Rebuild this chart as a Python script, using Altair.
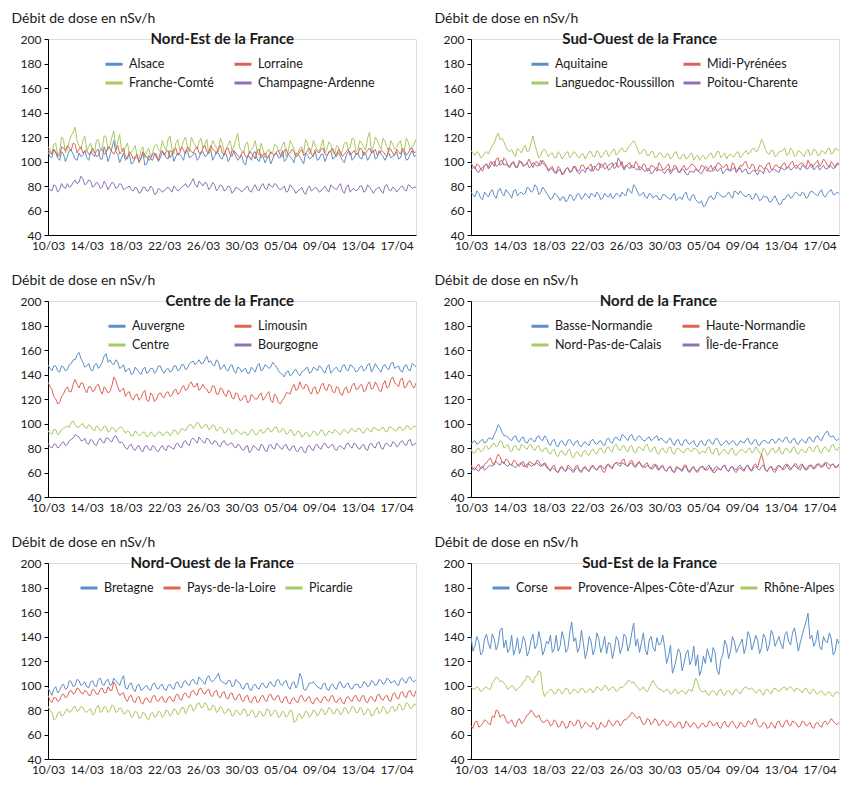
import altair as alt
import pandas as pd

# ---------------- data ----------------
DATE_LABELS = ["10/03", "14/03", "18/03", "22/03", "26/03", "30/03", "05/04", "09/04", "13/04", "17/04"]
LABEL_POS = [0, 4, 8, 12, 16, 20, 24, 28, 32, 36]
Y_TICKS = [40, 60, 80, 100, 120, 140, 160, 180, 200]
STEP = 0.4  # days between two main readings; the "_b" lists hold the readings half-way between

alsace = [108,103,107,101,106,104,109,102,107,105, 103,108,104,110,102,107,105,117,106,103,
          101,106,99,104,102,97,105,101,106,103, 107,102,108,104,106,101,109,104,107,103,
          108,105,110,104,107,102,106,103,108,101, 105,97,104,107,102,106,99,105,102,107,
          103,100,106,102,107,104,98,105,103,108, 102,106,104,109,103,107,101,105,108,103,
          107,102,106,104,109,103,106,101,107,104, 108,103,107,102,109,105]
alsace_b = [104,110,103,108,100,109,106,101,104,109, 101,106,109,102,112,100,111,108,99,107,
            104,98,103,100,107,98,102,106,100,108, 103,109,100,107,104,109,103,106,101,108,
            104,109,101,108,103,107,100,109,104,103, 99,105,101,108,100,104,102,98,106,103,
            109,102,104,99,106,101,107,102,106,101, 106,100,108,102,107,104,99,108,101,106,
            103,108,101,107,102,109,104,105,103,106, 102,109,101,106,104]
lorraine = [110,106,108,105,111,113,109,114,110,107, 109,106,108,105,110,107,111,106,113,108,
            104,108,102,106,103,105,101,106,103,107, 105,109,106,111,107,109,112,108,110,107,
            111,108,113,109,111,107,110,106,109,105, 107,104,108,105,109,103,107,104,106,108,
            105,109,106,110,104,108,105,109,106,110, 107,111,105,109,106,110,104,108,105,109,
            106,110,107,111,108,105,109,106,111,107, 110,106,109,107,111,108]
lorraine_b = [107,110,104,112,109,111,115,107,112,108, 106,111,104,109,106,112,108,109,106,111,
              102,106,104,99,108,104,102,107,101,109, 108,103,110,105,112,106,110,107,112,106,
              113,107,110,106,113,105,111,104,107,103, 108,103,107,102,110,105,103,108,105,109,
              104,110,107,108,105,110,107,111,104,108, 110,106,107,111,104,108,106,110,107,106,
              111,105,109,107,110,107,108,104,110,105, 108,111,105,110,107]
franche_comte = [112,106,115,108,118,110,121,128,113,117, 109,115,107,118,111,120,113,125,116,109,
                 112,106,110,104,109,103,111,107,114,108, 112,118,110,115,109,117,112,120,113,116,
                 111,118,109,114,108,115,110,117,112,123, 109,114,106,112,108,115,103,110,107,113,
                 109,116,108,114,104,111,107,115,109,113, 108,118,110,114,106,112,109,116,111,118,
                 110,115,109,124,112,117,110,116,108,114, 111,117,109,116,112,118]
franche_comte_b = [110,114,105,120,107,117,124,117,110,121, 112,108,117,110,121,109,120,111,122,108,
                   115,108,113,102,112,108,104,113,110,117, 109,121,106,118,112,120,108,116,110,119,
                   114,106,117,111,119,107,114,109,118,111, 107,116,110,117,105,110,108,106,114,109,
                   113,104,117,110,107,112,118,106,117,110, 113,107,116,108,113,105,115,110,119,108,
                   117,112,119,108,120,113,119,112,117,110, 115,108,119,110,114]
champagne = [79,76,80,77,79,82,80,85,83,86, 82,84,80,82,79,81,80,82,79,81,
             78,80,76,78,75,79,76,78,74,77, 76,79,75,78,77,80,79,83,81,84,
             80,82,79,81,78,80,77,79,76,78, 75,78,76,79,77,80,78,82,79,81,
             77,80,76,79,74,77,75,78,76,79, 75,78,77,81,78,80,76,79,75,78,
             77,80,76,79,74,78,76,80,77,79, 75,79,77,81,78,79]
champagne_b = [77,81,75,82,78,79,83,82,88,81, 85,79,83,78,84,77,83,78,82,77,
               79,77,79,74,79,76,80,73,78,75, 78,77,80,76,79,82,80,86,79,82,
               83,77,83,76,81,76,80,74,79,77, 77,80,75,81,76,82,77,80,82,78,
               78,75,81,77,76,79,73,80,77,78, 76,80,75,79,77,82,74,81,77,76,
               80,75,81,77,77,79,74,81,76,78, 77,80,76,80,79]

aquitaine = [75,71,74,69,73,75,72,76,74,77, 73,76,72,75,74,78,76,79,75,77,
             72,70,73,68,71,69,72,70,73,71, 72,74,71,73,70,72,74,71,73,75,
             72,76,81,75,73,71,74,70,72,69, 73,70,72,68,71,73,70,72,69,66,
             63,68,72,70,74,71,73,72,76,73, 74,71,73,70,72,69,71,67,70,68,
             65,69,73,71,75,72,74,71,76,73, 75,72,74,77,73,74]
aquitaine_b = [73,76,70,75,71,77,70,78,72,75, 70,77,74,73,79,75,81,73,79,74,
               69,74,71,71,67,73,68,74,69,74, 70,73,75,69,74,71,70,74,71,73,
               78,74,79,72,75,70,73,72,69,73, 71,69,74,70,69,75,68,73,67,68,
               64,71,69,75,72,71,75,70,75,76, 72,73,69,74,68,72,71,67,72,65,
               69,72,70,74,73,75,70,75,74,72, 77,71,76,73,75]
midi_pyrenees = [99,94,97,92,98,100,96,103,98,101, 96,100,95,99,97,102,95,100,97,99,
                 93,96,91,94,90,95,92,96,93,97, 94,98,95,99,96,97,94,98,95,100,
                 96,99,95,98,94,97,93,96,92,97, 94,98,93,96,92,97,94,98,95,93,
                 96,92,97,94,99,95,98,93,97,94, 96,100,94,97,93,96,95,99,94,97,
                 95,99,96,100,94,98,97,101,95,99, 96,102,97,100,95,98]
midi_pyrenees_b = [96,98,94,97,95,99,102,97,103,97, 99,96,101,96,99,98,99,97,101,96,
                   95,92,96,89,94,91,96,92,97,94, 96,92,97,95,99,93,97,99,97,93,
                   98,95,100,93,98,92,97,95,99,93, 96,92,97,91,95,93,96,97,92,97,
                   94,95,92,98,97,96,93,99,92,97, 99,95,98,92,97,94,98,93,97,95,
                   98,94,99,96,97,99,95,98,97,101, 98,100,95,98,99]
languedoc = [109,105,107,104,108,110,115,123,119,112, 108,106,111,107,113,109,121,108,105,110,
             104,107,103,106,104,108,105,107,103,106, 105,108,104,107,105,109,106,110,107,111,
             108,113,117,110,107,109,105,108,104,107, 103,106,104,108,102,106,103,107,104,101,
             105,103,107,104,108,105,102,106,104,108, 105,109,107,111,109,118,110,106,109,105,
             108,111,106,109,105,108,104,110,106,109, 105,108,110,106,111,109]
languedoc_b = [107,108,103,107,106,113,120,118,116,109, 110,104,109,111,108,115,114,103,109,107,
               106,103,108,102,107,103,108,104,106,102, 108,104,109,103,108,104,109,105,110,108,
               111,115,114,106,110,105,108,103,107,104, 106,102,107,103,105,102,106,101,105,104,
               102,106,103,108,103,107,105,104,107,103, 107,106,110,108,113,115,107,109,104,108,
               109,105,111,104,109,106,108,105,110,105, 109,106,111,107,110]
poitou = [93,96,91,95,98,96,100,97,101,98, 95,99,96,100,97,95,99,96,101,97,
          92,94,90,93,91,95,92,94,90,93, 95,92,96,93,97,95,98,94,103,96,
          97,94,96,93,95,92,94,91,95,93, 90,94,92,95,91,93,89,92,94,91,
          93,95,92,96,93,90,94,92,95,93, 91,94,90,93,89,92,95,91,94,92,
          95,93,96,94,97,93,96,94,98,95, 93,97,94,96,95,97]
poitou_b = [95,92,94,97,94,99,96,100,97,96, 98,95,99,97,99,96,98,97,99,95,
            94,91,93,90,94,92,96,91,93,91, 94,96,93,98,94,97,99,96,100,94,
            96,97,94,96,93,94,90,94,93,92, 93,90,94,92,94,90,92,91,93,90,
            96,92,94,92,95,92,93,94,91,95, 93,90,92,91,93,90,94,92,93,91,
            94,95,93,96,95,97,94,97,93,97, 95,94,97,94,98]

auvergne = [148,143,147,142,146,144,149,152,158,150, 147,144,148,145,150,157,152,148,150,146,
            142,145,141,144,140,146,142,145,143,147, 141,145,143,147,144,148,145,150,148,152,
            149,155,151,147,150,146,144,147,143,146, 142,145,141,144,147,143,148,145,150,146,
            141,138,143,140,144,139,143,146,142,145, 147,143,146,141,145,143,147,144,148,145,
            143,147,144,149,145,146,142,148,144,150, 146,143,147,144,149,146]
auvergne_b = [145,147,143,147,143,148,152,156,153,146, 149,143,149,147,155,150,149,152,145,148,
              144,140,146,142,144,141,145,141,147,143, 144,142,147,143,148,144,149,151,150,149,
              152,150,148,152,144,148,143,148,141,145, 144,141,146,142,149,144,147,146,148,143,
              140,142,139,143,141,142,145,141,146,143, 146,141,148,143,146,142,148,143,147,142,
              146,143,148,142,149,144,147,145,149,145, 147,142,148,143,148]
limousin = [134,128,120,117,124,130,126,136,129,133, 125,130,127,132,124,128,126,138,130,127,
            122,126,119,124,121,127,118,123,120,125, 121,126,123,128,125,131,128,134,130,127,
            132,128,126,130,124,128,122,126,120,124, 119,123,118,122,120,125,121,126,117,122,
            116,121,125,129,127,134,128,131,124,130, 126,133,127,131,125,129,123,130,126,133,
            128,132,127,134,129,131,126,135,130,138, 132,136,129,134,131,133]
limousin_b = [130,122,116,122,128,126,132,132,133,128, 130,126,131,127,130,125,131,135,126,129,
              125,121,123,119,125,119,125,118,124,122, 125,122,127,124,129,127,132,130,133,129,
              129,125,131,124,129,124,127,121,125,119, 122,117,124,120,123,119,124,119,124,117,
              119,125,124,132,128,130,132,126,129,124, 131,128,132,126,130,124,128,125,131,128,
              131,126,132,128,134,127,132,129,136,133, 130,137,130,135,129]
centre = [94,91,95,92,96,98,101,99,97,100, 96,98,94,97,95,97,94,96,95,97,
          92,93,90,92,91,93,90,92,91,93, 91,93,92,94,93,95,97,99,98,100,
          97,99,96,98,95,96,93,95,92,94, 91,93,92,94,91,95,93,96,94,97,
          93,95,92,94,91,93,90,92,91,93, 92,94,91,93,95,92,94,93,95,94,
          96,93,95,94,97,95,96,94,97,96, 94,97,95,98,96,97]
centre_b = [92,95,91,95,97,97,102,97,99,97, 99,95,98,94,98,93,97,93,97,95,
            94,90,94,90,93,89,93,89,93,90, 93,90,95,91,96,94,99,96,101,96,
            99,95,99,94,97,92,96,91,95,92, 93,90,95,91,94,92,96,93,97,93,
            96,91,95,90,94,89,93,89,94,90, 95,90,94,92,94,91,95,92,96,93,
            96,92,96,93,96,94,97,93,97,94, 97,94,98,95,98]
bourgogne = [84,80,83,81,85,83,87,91,89,86, 84,87,83,86,85,88,86,89,87,85,
             80,82,79,81,78,81,79,82,78,80, 79,82,80,83,81,85,83,87,86,89,
             85,88,84,86,82,85,83,84,81,83, 79,81,76,82,79,83,78,82,80,84,
             80,82,79,81,78,80,77,81,79,82, 80,83,81,82,79,81,80,83,81,84,
             80,82,79,83,81,84,80,83,82,85, 81,85,83,86,82,84]
bourgogne_b = [81,83,80,84,82,86,88,90,86,88, 83,86,82,88,84,88,85,90,84,83,
               79,83,78,82,77,82,78,81,77,82, 78,81,79,84,80,86,82,88,84,87,
               84,87,83,85,81,86,82,84,80,82, 78,82,78,81,78,82,77,83,79,82,
               79,83,78,82,77,81,76,82,78,83, 79,84,80,83,78,82,79,84,80,83,
               79,83,78,84,80,85,79,84,81,84, 82,86,82,87,83]

basse_normandie = [83,86,84,87,85,88,91,99,93,90, 87,89,86,88,85,87,86,89,87,90,
                   84,86,82,85,83,86,84,85,82,84, 83,86,84,85,83,87,85,88,87,91,
                   88,90,87,89,88,86,89,87,90,88, 85,87,84,86,83,86,84,85,82,85,
                   83,86,84,87,85,83,86,84,85,83, 85,87,84,86,83,85,86,84,87,85,
                   86,88,85,87,84,86,85,88,86,89, 87,90,94,89,87,88]
basse_normandie_b = [85,83,86,84,88,87,94,97,90,89, 86,90,85,89,84,88,85,90,86,88,
                     82,87,81,86,82,87,82,86,81,85, 82,87,83,86,82,88,84,89,86,90,
                     86,91,86,90,86,88,86,89,86,87, 84,88,82,87,82,87,83,86,81,86,
                     82,87,83,88,82,85,83,86,82,86, 84,88,83,87,82,86,84,87,84,88,
                     85,89,84,88,83,87,84,89,85,90, 86,92,90,90,86]
haute_normandie = [66,62,67,64,68,72,66,75,69,71, 67,70,66,68,65,69,67,70,66,68,
                   63,65,61,64,62,66,63,65,61,64, 62,65,63,64,61,65,64,67,68,70,
                   66,69,67,68,65,67,64,66,63,65, 62,64,61,65,63,66,62,64,61,63,
                   65,62,64,60,63,65,62,64,61,63, 62,65,63,66,64,75,62,64,61,63,
                   65,63,66,64,67,62,65,63,66,64, 67,65,68,66,64,67]
haute_normandie_b = [63,65,63,67,70,68,71,73,67,70, 66,69,65,69,64,68,66,69,65,66,
                     61,66,60,65,61,65,61,66,60,65, 61,66,62,65,60,66,63,68,67,71,
                     65,70,65,69,64,68,63,67,62,66, 61,65,60,64,62,66,61,65,60,65,
                     62,64,60,63,62,66,61,65,60,64, 61,66,62,67,70,69,61,65,60,65,
                     62,66,63,67,63,66,62,66,63,67, 65,68,66,67,65]
nord_pdc = [79,76,80,78,82,80,84,82,85,81, 78,81,79,83,80,82,79,81,78,80,
            76,78,74,77,75,78,73,76,74,77, 75,78,76,79,77,80,78,82,79,81,
            78,81,77,80,79,82,78,80,76,79, 77,80,76,79,78,76,80,77,79,75,
            77,80,76,79,74,78,76,79,75,77, 79,76,80,77,79,75,78,76,80,77,
            76,79,77,80,76,78,77,80,78,81, 77,80,78,82,79,81]
nord_pdc_b = [76,79,77,81,79,83,81,86,80,83, 77,82,78,82,79,83,78,82,77,80,
              75,79,73,78,74,79,72,77,73,78, 74,79,75,80,76,81,77,83,78,82,
              77,82,76,81,78,83,77,81,75,80, 76,81,75,80,77,79,78,80,78,77,
              76,81,75,80,76,79,75,80,74,78, 77,79,76,81,76,80,74,79,76,81,
              75,80,76,81,75,79,76,81,77,82, 76,81,77,83,78]
ile_de_france = [62,64,61,65,63,66,68,67,69,66, 67,65,66,68,65,67,66,68,65,67,
                 63,64,61,63,62,64,61,63,62,63, 62,64,63,65,64,66,65,67,66,68,
                 66,67,65,67,66,64,65,63,66,64, 62,64,61,63,62,64,61,63,62,64,
                 63,65,62,64,63,65,62,64,63,65, 63,65,62,64,63,65,62,64,63,65,
                 64,66,63,65,64,66,63,65,64,66, 65,67,64,66,65,66]
ile_de_france_b = [63,62,64,62,65,65,69,66,68,65, 66,64,67,65,67,65,67,66,67,64,
                   62,63,60,64,61,63,60,64,61,64, 61,65,62,66,63,67,64,68,65,67,
                   65,68,64,68,65,66,63,66,62,65, 61,65,60,64,61,65,60,64,61,65,
                   62,66,61,65,62,66,61,65,62,66, 62,66,61,65,62,66,61,65,62,66,
                   63,67,62,66,63,67,62,66,63,67, 64,68,63,67,64]

bretagne = [98,92,99,96,101,98,103,100,104,101, 99,103,100,105,101,104,100,106,102,105,
            98,101,97,100,96,99,97,101,98,100, 97,100,98,102,99,103,101,104,102,107,
            103,106,104,105,110,103,101,104,100,103, 98,101,97,100,98,101,99,102,100,104,
            101,103,99,102,98,110,97,99,102,101, 98,101,97,100,98,102,99,101,98,100,
            101,99,102,100,103,101,104,102,105,103, 101,105,103,106,104,105]
bretagne_b = [95,97,94,100,97,104,99,105,100,103, 98,104,99,106,100,105,101,104,100,108,
              97,102,95,101,97,100,96,102,97,101, 96,101,97,103,98,104,100,105,101,105,
              101,108,103,107,104,102,104,99,105,102, 97,102,96,101,97,102,98,103,99,105,
              100,104,97,103,101,106,96,102,103,99, 97,102,96,101,97,103,98,102,97,101,
              98,103,99,104,100,105,101,106,102,104, 100,106,102,107,103]
pays_de_la_loire = [92,86,90,88,93,91,96,94,97,93, 95,92,96,93,98,94,96,103,95,93,
                    89,91,87,90,86,89,87,91,88,90, 87,90,88,92,89,93,91,95,93,97,
                    94,96,92,95,91,94,90,93,89,92, 88,91,87,90,86,91,88,92,89,91,
                    87,90,86,89,87,91,88,90,86,89, 87,90,88,91,87,89,86,90,88,91,
                    88,91,87,90,88,92,89,91,88,93, 90,94,91,95,92,96]
pays_de_la_loire_b = [88,90,87,92,90,95,93,98,94,96, 92,97,93,97,94,99,96,100,92,94,
                      87,92,86,91,85,90,86,92,87,91, 86,91,87,93,88,94,90,96,92,98,
                      93,97,91,96,90,95,89,94,88,93, 87,92,86,91,87,92,87,93,88,92,
                      86,91,85,90,86,92,87,91,85,90, 86,91,87,92,86,90,85,91,87,92,
                      87,92,86,91,87,93,88,92,87,94, 89,95,90,96,91]
picardie = [83,78,73,79,76,81,79,83,80,82, 78,81,77,84,79,82,80,83,79,81,
            77,79,75,78,74,77,72,78,75,78, 76,79,77,80,78,82,80,84,81,86,
            82,84,80,83,79,81,78,80,76,79, 77,80,76,79,75,78,76,80,77,79,
            75,78,76,79,71,77,75,78,76,79, 77,80,78,81,77,80,78,81,79,82,
            78,81,77,80,76,82,79,81,78,83, 80,84,81,85,82,84]
picardie_b = [80,72,77,75,79,78,82,79,83,79, 80,76,82,78,83,78,84,78,82,77,
              80,74,79,73,78,73,77,74,79,74, 80,75,81,76,82,77,84,79,85,82,
              86,80,84,78,83,77,81,75,80,76, 81,75,80,74,79,75,81,75,80,74,
              79,74,80,70,76,73,79,74,80,75, 81,76,82,77,81,76,82,77,83,78,
              82,76,81,75,80,77,83,77,82,79, 85,80,86,81,85]

corse = [140,132,136,127,142,130,138,134,147,137, 130,125,139,131,136,128,142,133,137,129,
         134,127,141,132,138,130,152,139,131,135, 128,136,130,138,132,126,134,129,137,131,
         140,133,151,138,135,129,137,131,139,134, 131,124,110,122,127,118,129,121,116,108,
         124,130,119,127,109,125,133,128,136,131, 138,132,140,134,137,131,139,133,141,136,
         134,141,136,143,138,135,147,159,141,136, 132,140,135,138,128,134]
corse_b = [128,140,125,138,134,142,129,145,131,127, 141,130,126,140,124,137,130,144,125,136,
           141,130,128,144,127,143,136,127,145,122, 140,125,143,127,140,135,122,140,126,142,
           128,143,132,127,143,125,140,128,133,141, 118,133,115,130,112,126,117,132,125,113,
           118,124,131,113,121,137,122,140,127,134, 126,144,129,141,126,142,128,145,132,140,
           130,144,133,147,128,141,152,138,132,145, 129,136,143,125,138]
paca = [67,70,66,69,71,68,74,79,76,72, 70,68,71,69,73,77,78,74,72,70,
        71,68,70,67,69,66,70,68,71,67, 69,66,68,65,68,67,70,68,71,69,
        72,75,77,73,71,69,72,70,71,69, 70,68,69,67,70,66,69,67,68,66,
        69,67,70,68,66,69,67,70,68,66, 69,67,70,72,68,67,69,66,68,70,
        67,70,68,71,69,67,70,68,66,69, 67,70,68,73,69,70]
paca_b = [65,71,67,72,69,75,80,74,76,69, 72,66,73,70,76,80,75,76,70,72,
          67,72,66,71,65,71,67,72,65,70, 67,70,64,70,66,72,67,71,67,72,
          74,78,74,75,68,73,68,73,67,72, 67,71,66,70,65,71,66,70,65,69,
          66,71,67,70,65,71,66,71,65,70, 66,71,68,73,66,70,65,70,65,71,
          66,72,67,70,66,71,67,70,65,70, 66,71,70,71,68]
rhone_alpes = [99,97,98,96,99,97,104,106,104,100, 98,99,97,100,104,107,102,108,111,91,
               95,96,94,96,95,97,94,96,95,97, 95,97,96,98,97,99,97,98,96,98,
               101,104,103,99,97,96,98,104,99,97, 95,96,94,96,95,94,96,95,106,97,
               95,93,95,94,96,93,95,94,96,95, 96,99,97,96,95,94,96,95,97,96,
               97,99,98,97,98,96,97,95,96,94, 95,93,94,92,94,93]
rhone_alpes_b = [97,99,95,98,97,102,107,103,102,97, 100,96,99,103,108,104,107,112,96,94,
                 97,93,97,93,98,93,97,94,98,94, 97,94,99,96,100,96,99,95,99,100,
                 104,102,100,96,99,95,102,101,97,95, 97,93,97,93,96,93,97,100,103,95,
                 96,92,96,92,97,92,96,92,97,93, 98,97,98,94,97,92,97,93,98,95,
                 98,96,99,95,97,94,98,93,97,93, 96,92,95,91,95]

# (title, series names, [(main readings, half-way readings)], legend columns, legend x, column gap)
PANELS = [
    ("Nord-Est de la France", ["Alsace", "Lorraine", "Franche-Comté", "Champagne-Ardenne"],
     [(alsace, alsace_b), (lorraine, lorraine_b), (franche_comte, franche_comte_b),
      (champagne, champagne_b)], 2, 56, 14),
    ("Sud-Ouest de la France", ["Aquitaine", "Midi-Pyrénées", "Languedoc-Roussillon", "Poitou-Charente"],
     [(aquitaine, aquitaine_b), (midi_pyrenees, midi_pyrenees_b), (languedoc, languedoc_b),
      (poitou, poitou_b)], 2, 59, 2),
    ("Centre de la France", ["Auvergne", "Limousin", "Centre", "Bourgogne"],
     [(auvergne, auvergne_b), (limousin, limousin_b), (centre, centre_b),
      (bourgogne, bourgogne_b)], 2, 59, 43),
    ("Nord de la France", ["Basse-Normandie", "Haute-Normandie", "Nord-Pas-de-Calais", "Île-de-France"],
     [(basse_normandie, basse_normandie_b), (haute_normandie, haute_normandie_b),
      (nord_pdc, nord_pdc_b), (ile_de_france, ile_de_france_b)], 2, 59, 14),
    ("Nord-Ouest de la France", ["Bretagne", "Pays-de-la-Loire", "Picardie"],
     [(bretagne, bretagne_b), (pays_de_la_loire, pays_de_la_loire_b), (picardie, picardie_b)],
     3, 31, 3),
    ("Sud-Est de la France", ["Corse", "Provence-Alpes-Côte-d’Azur", "Rhône-Alpes"],
     [(corse, corse_b), (paca, paca_b), (rhone_alpes, rhone_alpes_b)], 3, 20, 0),
]

COLORS = ["#5B8FC8", "#DE6355", "#A9C962", "#8F72B4"]
FONT = "Lato"
TEXT = "#1a1a1a"
W, H = 368, 196

label_expr = "[" + ",".join("'%s'" % s for s in DATE_LABELS) + "][round(datum.value/4)]"


def make_panel(title, names, series, ncols, legend_x, col_gap):
    rows = []
    for name, (main, half) in zip(names, series):
        for i, v in enumerate(main):
            rows.append({"jour": i * STEP, "valeur": v, "region": name})
        for i, v in enumerate(half):
            rows.append({"jour": (i + 0.5) * STEP, "valeur": v, "region": name})
    df = pd.DataFrame(rows).sort_values(["region", "jour"])
    lines = alt.Chart(df).mark_line(strokeWidth=1, clip=True).encode(
        x=alt.X("jour:Q",
                scale=alt.Scale(domain=[0, 38], nice=False, zero=False),
                axis=alt.Axis(values=LABEL_POS, labelExpr=label_expr, ticks=False, grid=False,
                              title=None, domainColor="black", labelPadding=5,
                              labelFontSize=12, labelFont=FONT, labelColor=TEXT,
                              labelFlush=False, labelOverlap=False)),
        y=alt.Y("valeur:Q",
                scale=alt.Scale(domain=[40, 200], nice=False, zero=False),
                axis=alt.Axis(values=Y_TICKS, grid=False, tickSize=4, tickColor="black",
                              domainColor="black", labelFontSize=12, labelFont=FONT,
                              labelColor=TEXT, labelPadding=3,
                              title="Débit de dose en nSv/h", titleAngle=0, titleAlign="left",
                              titleBaseline="alphabetic", titleX=-37, titleY=-17,
                              titleFont=FONT, titleFontSize=14, titleFontWeight="normal",
                              titleColor=TEXT)),
        color=alt.Color("region:N", sort=names,
                        scale=alt.Scale(domain=names, range=COLORS[:len(names)]),
                        legend=alt.Legend(title=None, orient="none", legendX=legend_x, legendY=15,
                                          direction="horizontal", columns=ncols,
                                          gridAlign="each" if ncols == 2 else "none",
                                          symbolType="stroke", symbolSize=289,
                                          symbolStrokeWidth=3, labelFontSize=12.5, labelFont=FONT,
                                          labelColor=TEXT, labelLimit=220, columnPadding=col_gap,
                                          rowPadding=2, labelOffset=5, padding=0)),
    )
    head = alt.Chart(pd.DataFrame({"t": [title]})).mark_text(
        align="right", baseline="middle", fontWeight="bold", fontSize=15, font=FONT, color=TEXT
    ).encode(text="t:N", x=alt.value(246), y=alt.value(0))
    return alt.layer(lines, head).properties(width=W, height=H)


panels = [make_panel(*p) for p in PANELS]
rows = [alt.hconcat(panels[i], panels[i + 1], spacing=16).resolve_scale(color="independent")
        for i in range(0, 6, 2)]
chart = alt.vconcat(*rows, spacing=20).resolve_scale(color="independent").properties(
    padding={"left": 2, "top": 2, "right": 0, "bottom": 0}
).configure_view(stroke=None).configure(background="white")

chart.save("out.html", embed_options={"renderer": "svg", "actions": False})
